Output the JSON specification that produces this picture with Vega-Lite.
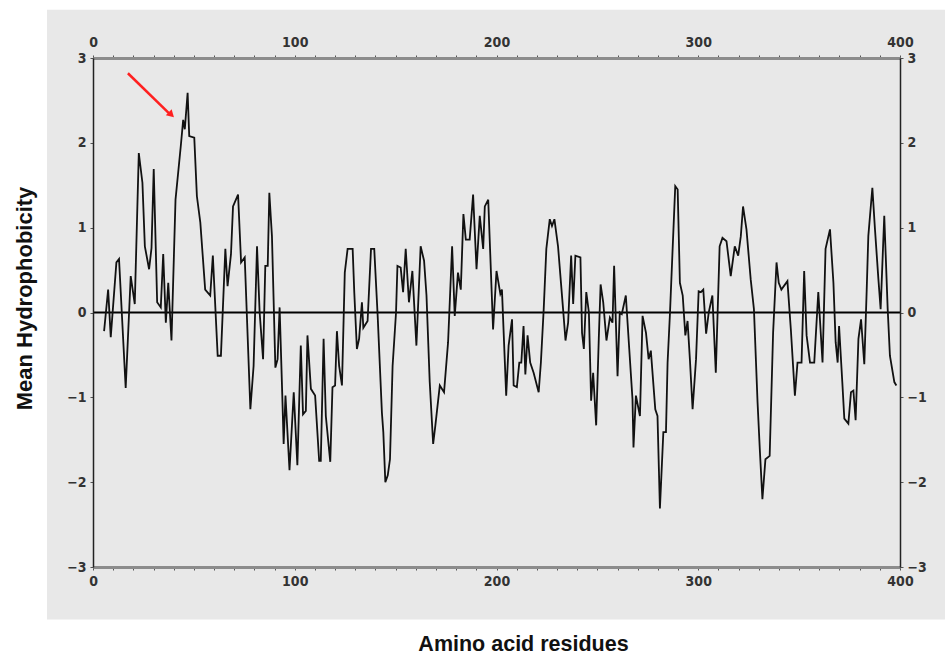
{
  "$schema": "https://vega.github.io/schema/vega-lite/v6.json",
  "width": 807,
  "height": 509,
  "autosize": {"type": "none"},
  "padding": {"left": 93, "top": 58, "right": 49, "bottom": 87},
  "background": "white",
  "view": {"stroke": null},
  "config": {
    "axis": {
      "grid": false,
      "labelFlush": false,
      "labelOverlap": false,
      "labelFont": "Liberation Sans Narrow, DejaVu Sans Condensed, Liberation Sans",
      "labelFontWeight": "bold",
      "labelFontSize": 14,
      "labelColor": "#333333",
      "tickColor": "#555555",
      "tickSize": 3,
      "titleFont": "Liberation Sans",
      "titleFontWeight": "bold",
      "titleColor": "#111111"
    }
  },
  "data": {"values": [{}]},
  "layer": [
    {
      "mark": {"type": "rect", "fill": "#e8e8e8", "clip": false},
      "encoding": {
        "x": {
          "datum": -22.8, "type": "quantitative",
          "scale": {"domain": [0, 400], "nice": false},
          "axis": {
            "orient": "top", "title": null, "zindex": 2,
            "values": [0,10,20,30,40,50,60,70,80,90,100,110,120,130,140,150,160,170,180,190,200,210,220,230,240,250,260,270,280,290,300,310,320,330,340,350,360,370,380,390,400],
            "labelExpr": "datum.value % 100 === 0 ? datum.label : ''",
            "domainColor": "#8c8c8c", "domainWidth": 3, "labelPadding": 6
          }
        },
        "x2": {"datum": 422.3},
        "y": {
          "datum": 3.57, "type": "quantitative",
          "scale": {"domain": [-3, 3], "nice": false},
          "axis": {
            "orient": "right", "title": null, "zindex": 2,
            "values": [-3, -2, -1, 0, 1, 2, 3],
            "domainColor": "#222222", "domainWidth": 1.5, "labelPadding": 4
          }
        },
        "y2": {"datum": -3.62}
      }
    },
    {
      "mark": {"type": "rule", "color": "black", "strokeWidth": 2},
      "encoding": {"y": {"datum": 0, "type": "quantitative", "axis": null}}
    },
    {
      "data": {"values": [
        {"residue": 5.5, "h": -0.22}, {"residue": 7.5, "h": 0.27}, {"residue": 8.8, "h": -0.29}, {"residue": 11.6, "h": 0.59},
        {"residue": 12.9, "h": 0.63}, {"residue": 16.2, "h": -0.89}, {"residue": 18.7, "h": 0.43}, {"residue": 20.7, "h": 0.10},
        {"residue": 22.7, "h": 1.88}, {"residue": 24.5, "h": 1.53}, {"residue": 25.7, "h": 0.78}, {"residue": 27.8, "h": 0.51},
        {"residue": 29.0, "h": 0.76}, {"residue": 30.1, "h": 1.69}, {"residue": 31.8, "h": 0.12}, {"residue": 33.6, "h": 0.06},
        {"residue": 34.8, "h": 0.69}, {"residue": 36.1, "h": -0.12}, {"residue": 37.3, "h": 0.35}, {"residue": 38.9, "h": -0.33},
        {"residue": 40.9, "h": 1.33}, {"residue": 43.5, "h": 1.96}, {"residue": 44.7, "h": 2.27}, {"residue": 45.5, "h": 2.16},
        {"residue": 46.9, "h": 2.59}, {"residue": 47.7, "h": 2.08}, {"residue": 50.2, "h": 2.06}, {"residue": 51.5, "h": 1.37},
        {"residue": 53.2, "h": 1.06}, {"residue": 55.6, "h": 0.27}, {"residue": 58.1, "h": 0.20}, {"residue": 59.4, "h": 0.67},
        {"residue": 61.8, "h": -0.51}, {"residue": 63.4, "h": -0.51}, {"residue": 65.6, "h": 0.75}, {"residue": 66.7, "h": 0.31},
        {"residue": 68.4, "h": 0.69}, {"residue": 69.4, "h": 1.25}, {"residue": 71.9, "h": 1.39}, {"residue": 73.4, "h": 0.59},
        {"residue": 75.2, "h": 0.65}, {"residue": 78.0, "h": -1.14}, {"residue": 79.6, "h": -0.63}, {"residue": 81.3, "h": 0.78},
        {"residue": 82.6, "h": 0.0}, {"residue": 84.3, "h": -0.55}, {"residue": 85.4, "h": 0.55}, {"residue": 86.6, "h": 0.55},
        {"residue": 87.4, "h": 1.41}, {"residue": 88.7, "h": 0.90}, {"residue": 90.4, "h": -0.65}, {"residue": 91.5, "h": -0.55},
        {"residue": 92.5, "h": 0.06}, {"residue": 93.8, "h": -0.96}, {"residue": 94.5, "h": -1.55}, {"residue": 95.4, "h": -0.98},
        {"residue": 97.4, "h": -1.86}, {"residue": 99.5, "h": -0.94}, {"residue": 101.3, "h": -1.80}, {"residue": 103.0, "h": -0.39},
        {"residue": 104.1, "h": -1.20}, {"residue": 105.5, "h": -1.16}, {"residue": 106.3, "h": -0.27}, {"residue": 108.0, "h": -0.90},
        {"residue": 110.1, "h": -0.98}, {"residue": 112.1, "h": -1.75}, {"residue": 112.9, "h": -1.75}, {"residue": 114.3, "h": -0.31},
        {"residue": 115.4, "h": -1.22}, {"residue": 117.6, "h": -1.76}, {"residue": 118.7, "h": -0.88}, {"residue": 120.0, "h": -0.86},
        {"residue": 120.9, "h": -0.22}, {"residue": 122.0, "h": -0.63}, {"residue": 123.4, "h": -0.86}, {"residue": 124.8, "h": 0.47},
        {"residue": 126.2, "h": 0.75}, {"residue": 128.7, "h": 0.75}, {"residue": 129.5, "h": 0.24}, {"residue": 130.8, "h": -0.43},
        {"residue": 131.9, "h": -0.31}, {"residue": 133.3, "h": 0.12}, {"residue": 134.0, "h": -0.18}, {"residue": 136.1, "h": -0.10},
        {"residue": 137.8, "h": 0.75}, {"residue": 139.4, "h": 0.75}, {"residue": 141.1, "h": -0.04}, {"residue": 143.2, "h": -1.18},
        {"residue": 143.9, "h": -1.41}, {"residue": 144.9, "h": -2.00}, {"residue": 146.1, "h": -1.92}, {"residue": 147.2, "h": -1.73},
        {"residue": 148.5, "h": -0.63}, {"residue": 150.2, "h": 0.0}, {"residue": 150.9, "h": 0.55}, {"residue": 152.5, "h": 0.53},
        {"residue": 153.7, "h": 0.24}, {"residue": 155.0, "h": 0.75}, {"residue": 156.6, "h": 0.12}, {"residue": 158.3, "h": 0.49},
        {"residue": 160.3, "h": -0.39}, {"residue": 162.4, "h": 0.78}, {"residue": 164.1, "h": 0.61}, {"residue": 165.3, "h": 0.20},
        {"residue": 166.9, "h": -0.82}, {"residue": 168.6, "h": -1.55}, {"residue": 169.7, "h": -1.33}, {"residue": 171.9, "h": -0.86},
        {"residue": 174.0, "h": -0.94}, {"residue": 176.0, "h": -0.35}, {"residue": 178.0, "h": 0.78}, {"residue": 179.3, "h": -0.04},
        {"residue": 180.9, "h": 0.47}, {"residue": 182.3, "h": 0.27}, {"residue": 183.6, "h": 1.16}, {"residue": 184.8, "h": 0.86},
        {"residue": 186.7, "h": 0.86}, {"residue": 188.4, "h": 1.39}, {"residue": 190.1, "h": 0.51}, {"residue": 191.7, "h": 1.14},
        {"residue": 193.4, "h": 0.75}, {"residue": 194.2, "h": 1.25}, {"residue": 195.9, "h": 1.33}, {"residue": 198.3, "h": -0.20},
        {"residue": 200.0, "h": 0.49}, {"residue": 201.9, "h": 0.22}, {"residue": 202.7, "h": 0.27}, {"residue": 204.8, "h": -0.98},
        {"residue": 206.0, "h": -0.39}, {"residue": 207.7, "h": -0.08}, {"residue": 208.5, "h": -0.86}, {"residue": 210.1, "h": -0.88},
        {"residue": 211.3, "h": -0.59}, {"residue": 212.3, "h": -0.59}, {"residue": 213.4, "h": -0.16}, {"residue": 214.3, "h": -0.73},
        {"residue": 215.4, "h": -0.27}, {"residue": 216.7, "h": -0.59}, {"residue": 218.4, "h": -0.71}, {"residue": 220.9, "h": -0.94},
        {"residue": 222.0, "h": -0.59}, {"residue": 223.4, "h": 0.04}, {"residue": 224.7, "h": 0.75}, {"residue": 226.4, "h": 1.10},
        {"residue": 227.5, "h": 1.02}, {"residue": 228.7, "h": 1.10}, {"residue": 230.5, "h": 0.78}, {"residue": 233.0, "h": 0.04},
        {"residue": 234.2, "h": -0.33}, {"residue": 235.5, "h": -0.12}, {"residue": 237.0, "h": 0.67}, {"residue": 238.0, "h": 0.10},
        {"residue": 239.1, "h": 0.67}, {"residue": 241.6, "h": 0.65}, {"residue": 242.4, "h": -0.24}, {"residue": 243.3, "h": -0.43},
        {"residue": 244.5, "h": 0.24}, {"residue": 245.8, "h": 0.0}, {"residue": 246.9, "h": -1.04}, {"residue": 247.9, "h": -0.71},
        {"residue": 249.4, "h": -1.33}, {"residue": 250.7, "h": -0.31}, {"residue": 251.6, "h": 0.33}, {"residue": 252.9, "h": 0.12},
        {"residue": 254.5, "h": -0.33}, {"residue": 256.2, "h": -0.06}, {"residue": 257.5, "h": -0.12}, {"residue": 258.3, "h": 0.55},
        {"residue": 260.0, "h": -0.75}, {"residue": 261.1, "h": 0.0}, {"residue": 262.1, "h": -0.02}, {"residue": 264.1, "h": 0.20},
        {"residue": 265.8, "h": -0.43}, {"residue": 267.4, "h": -1.02}, {"residue": 267.9, "h": -1.59}, {"residue": 269.1, "h": -0.98},
        {"residue": 271.1, "h": -1.22}, {"residue": 272.4, "h": -0.04}, {"residue": 274.1, "h": -0.24}, {"residue": 275.4, "h": -0.55},
        {"residue": 276.5, "h": -0.45}, {"residue": 278.7, "h": -1.14}, {"residue": 279.8, "h": -1.22}, {"residue": 281.0, "h": -2.31},
        {"residue": 282.7, "h": -1.41}, {"residue": 284.0, "h": -1.41}, {"residue": 284.8, "h": -0.59}, {"residue": 286.0, "h": 0.0},
        {"residue": 287.3, "h": 0.75}, {"residue": 288.6, "h": 1.49}, {"residue": 289.8, "h": 1.45}, {"residue": 290.9, "h": 0.35},
        {"residue": 292.3, "h": 0.20}, {"residue": 293.6, "h": -0.27}, {"residue": 294.7, "h": -0.10}, {"residue": 295.9, "h": -0.57},
        {"residue": 297.2, "h": -1.14}, {"residue": 298.9, "h": -0.55}, {"residue": 300.2, "h": 0.25}, {"residue": 301.3, "h": 0.24},
        {"residue": 302.5, "h": 0.27}, {"residue": 303.9, "h": -0.25}, {"residue": 305.2, "h": 0.0}, {"residue": 307.0, "h": 0.20},
        {"residue": 308.7, "h": -0.71}, {"residue": 310.6, "h": 0.78}, {"residue": 312.0, "h": 0.88}, {"residue": 314.0, "h": 0.84},
        {"residue": 316.1, "h": 0.43}, {"residue": 318.1, "h": 0.78}, {"residue": 319.8, "h": 0.67}, {"residue": 321.1, "h": 0.90},
        {"residue": 322.2, "h": 1.25}, {"residue": 323.9, "h": 0.98}, {"residue": 326.0, "h": 0.39}, {"residue": 327.6, "h": 0.04},
        {"residue": 329.4, "h": -1.06}, {"residue": 330.5, "h": -1.61}, {"residue": 331.8, "h": -2.20}, {"residue": 333.3, "h": -1.73},
        {"residue": 335.4, "h": -1.69}, {"residue": 337.1, "h": -0.24}, {"residue": 338.8, "h": 0.59}, {"residue": 339.9, "h": 0.35},
        {"residue": 341.2, "h": 0.27}, {"residue": 344.2, "h": 0.37}, {"residue": 345.9, "h": -0.20}, {"residue": 347.9, "h": -0.98},
        {"residue": 349.2, "h": -0.59}, {"residue": 351.2, "h": -0.59}, {"residue": 352.5, "h": 0.49}, {"residue": 353.7, "h": -0.27},
        {"residue": 355.4, "h": -0.59}, {"residue": 357.5, "h": -0.59}, {"residue": 359.5, "h": 0.24}, {"residue": 361.6, "h": -0.59},
        {"residue": 363.1, "h": 0.75}, {"residue": 365.3, "h": 0.98}, {"residue": 367.0, "h": 0.35}, {"residue": 368.1, "h": -0.35},
        {"residue": 369.1, "h": -0.59}, {"residue": 369.8, "h": -0.16}, {"residue": 371.4, "h": -0.82}, {"residue": 372.4, "h": -1.25},
        {"residue": 374.4, "h": -1.31}, {"residue": 375.7, "h": -0.94}, {"residue": 376.9, "h": -0.92}, {"residue": 378.0, "h": -1.27},
        {"residue": 379.4, "h": -0.31}, {"residue": 380.7, "h": -0.08}, {"residue": 382.3, "h": -0.61}, {"residue": 383.5, "h": 0.27},
        {"residue": 384.3, "h": 0.90}, {"residue": 386.3, "h": 1.47}, {"residue": 387.6, "h": 0.98}, {"residue": 389.3, "h": 0.39},
        {"residue": 390.4, "h": 0.04}, {"residue": 392.2, "h": 1.14}, {"residue": 393.9, "h": 0.04}, {"residue": 395.0, "h": -0.51},
        {"residue": 397.2, "h": -0.82}, {"residue": 398.2, "h": -0.86}
      ]},
      "mark": {"type": "line", "color": "#111111", "strokeWidth": 1.8},
      "encoding": {
        "x": {
          "field": "residue", "type": "quantitative",
          "scale": {"domain": [0, 400], "nice": false},
          "axis": {
            "orient": "bottom", "title": "Amino acid residues", "zindex": 2,
            "values": [0,10,20,30,40,50,60,70,80,90,100,110,120,130,140,150,160,170,180,190,200,210,220,230,240,250,260,270,280,290,300,310,320,330,340,350,360,370,380,390,400],
            "labelExpr": "datum.value % 100 === 0 ? datum.label : ''",
            "domainColor": "#8c8c8c", "domainWidth": 3, "labelPadding": 4,
            "titleFontSize": 21.5, "titleX": 430, "titleY": 83, "titleAlign": "center", "titleBaseline": "alphabetic"
          }
        },
        "y": {
          "field": "h", "type": "quantitative",
          "scale": {"domain": [-3, 3], "nice": false},
          "axis": {
            "orient": "left", "title": "Mean Hydrophobicity", "zindex": 2,
            "values": [-3, -2, -1, 0, 1, 2, 3],
            "domainColor": "#222222", "domainWidth": 1.5, "labelPadding": 4,
            "titleFontSize": 22, "titleAngle": -90, "titleX": -62, "titleY": 240, "titleAlign": "center", "titleBaseline": "alphabetic"
          }
        }
      }
    },
    {
      "mark": {"type": "rule", "color": "#ff2020", "strokeWidth": 2.5},
      "encoding": {
        "x": {"datum": 17.3, "type": "quantitative", "axis": null},
        "x2": {"datum": 38.5},
        "y": {"datum": 2.82, "type": "quantitative", "axis": null},
        "y2": {"datum": 2.33}
      }
    },
    {
      "mark": {"type": "point", "shape": "triangle", "filled": true, "color": "#ff2020", "size": 70, "angle": 134, "opacity": 1},
      "encoding": {
        "x": {"datum": 38.4, "type": "quantitative", "axis": null},
        "y": {"datum": 2.34, "type": "quantitative", "axis": null}
      }
    }
  ],
  "resolve": {"axis": {"x": "independent", "y": "independent"}}
}
